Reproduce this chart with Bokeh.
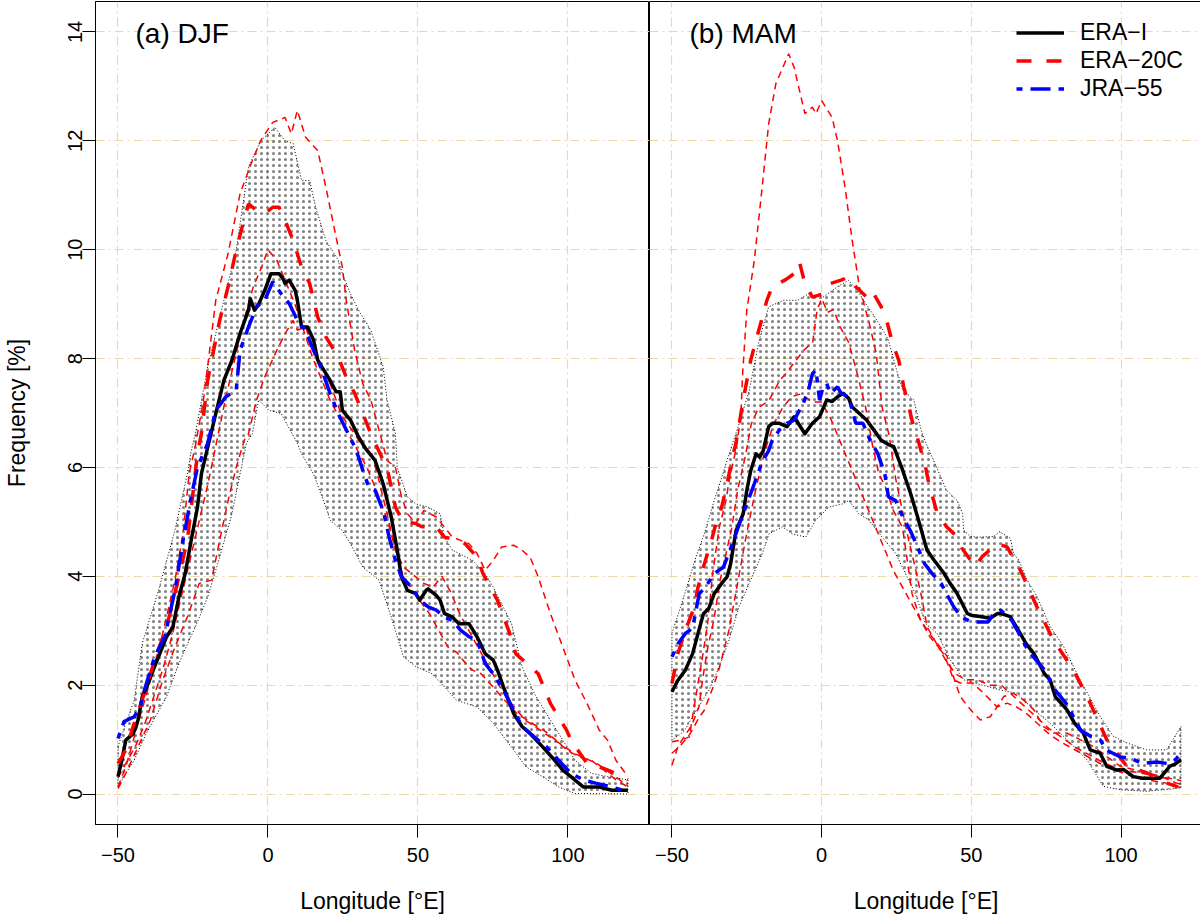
from bokeh.plotting import figure
from bokeh.models import Range1d, FixedTicker, Label, Legend, LegendItem
from bokeh.layouts import row
from bokeh.embed import file_html
from bokeh.resources import INLINE

FONT = "Liberation Sans"

# ---------------- tick labels ----------------
x_ticks = [-50, 0, 50, 100]
x_tick_labels = ["\u221250", "0", "50", "100"]
y_ticks = [0, 2, 4, 6, 8, 10, 12, 14]
y_tick_labels = ["0", "2", "4", "6", "8", "10", "12", "14"]
panel_titles = ["(a) DJF", "(b) MAM"]
series_names = ["ERA\u2212I", "ERA\u221220C", "JRA\u221255"]

# ---------------- (a) DJF ----------------
djf_erai_lon = [-50, -48.7, -47.4, -44.9, -43.3, -41.9, -40.6, -37.8, -33.8, -31.7, -29.7, -27.6, -25.6, -23.5, -22.2,
                -20.1, -17.4, -14.7, -12.0, -9.3, -6.5, -5.9, -4.5, -3.1, -1.1, 1.0, 3.7, 5.0, 5.7, 7.1, 9.1, 9.8,
                11.2, 13.2, 15.2, 16.6, 20.7, 22.7, 24.1, 24.8, 27.5, 30.2, 32.5, 35.7, 38.4, 41.1, 43.1, 44.5, 46.5,
                49.3, 50.6, 52.7, 53.4, 56.1, 57.4, 58.8, 61.5, 63.6, 67.0, 69.7, 72.4, 75.1, 76.5, 78.5, 81.9, 84.7,
                87.4, 91.5, 95.6, 98.3, 101.0, 105.1, 110.5, 114.6, 120.0]
djf_erai_val = [0.32, 0.62, 0.99, 1.11, 1.36, 1.79, 1.94, 2.34, 2.89, 3.07, 3.62, 4.05, 4.66, 5.27, 5.88, 6.37, 6.99,
                7.6, 7.97, 8.46, 8.89, 9.1, 8.89, 9.0, 9.25, 9.56, 9.56, 9.47, 9.38, 9.44, 9.25, 9.07, 8.58, 8.58,
                8.34, 7.97, 7.6, 7.39, 7.39, 7.05, 6.87, 6.56, 6.35, 6.13, 5.70, 5.09, 4.48, 3.99, 3.74, 3.68, 3.56,
                3.74, 3.77, 3.65, 3.56, 3.32, 3.25, 3.13, 3.13, 2.89, 2.58, 2.46, 2.28, 1.97, 1.48, 1.24, 1.11, 0.87,
                0.62, 0.44, 0.32, 0.13, 0.13, 0.07, 0.07]

djf_era20c_lon = [-50, -47.4, -44.6, -41.2, -37.8, -33.8, -29.7, -26.9, -24.9, -23.5, -22.2, -20.1, -16.1, -13.3,
                  -10.6, -8.6, -6.5, -3.8, -1.1, 1.6, 3.7, 5.7, 8.4, 11.2, 13.9, 16.6, 19.3, 23.4, 26.1, 28.9, 31.6,
                  34.3, 38.4, 39.7, 42.5, 45.0, 49.3, 51.3, 56.1, 58.8, 63.6, 65.7, 69.7, 71.7, 76.5, 80.6, 82.6,
                  87.4, 90.1, 94.2, 99.6, 101.0, 106.4, 111.9, 116.0, 120.0]
djf_era20c_val = [0.56, 0.81, 1.30, 1.85, 2.46, 3.07, 3.99, 4.66, 5.58, 6.25, 6.62, 7.6, 8.70, 9.32, 9.99, 10.42,
                  10.84, 10.72, 10.66, 10.78, 10.78, 10.54, 10.17, 9.68, 9.38, 8.76, 8.40, 8.03, 7.66, 7.36, 6.99,
                  6.62, 6.13, 6.0, 5.27, 5.0, 4.97, 4.91, 4.91, 4.72, 4.66, 4.60, 4.35, 4.05, 3.56, 2.95, 2.58, 2.34,
                  2.21, 1.66, 1.17, 0.99, 0.56, 0.47, 0.38, 0.26]

djf_jra55_lon = [-50, -48.0, -44.6, -42.6, -41.2, -37.8, -34.4, -31.0, -28.3, -25.6, -23.5, -20.1, -17.4, -14.0,
                 -10.6, -9.3, -6.5, -3.8, -1.1, 1.6, 4.4, 7.1, 9.8, 12.5, 15.2, 18.0, 20.7, 23.4, 26.1, 28.9, 30.2,
                 31.6, 33.6, 35.7, 38.4, 40.4, 42.5, 44.5, 47.9, 50.6, 53.4, 56.1, 58.8, 61.5, 64.2, 67.0, 69.7,
                 72.4, 75.1, 78.5, 81.9, 84.7, 88.8, 92.8, 96.9, 101.0, 105.1, 109.2, 114.6, 120.0]
djf_jra55_val = [1.02, 1.33, 1.42, 1.60, 1.91, 2.52, 2.89, 3.74, 4.66, 5.46, 6.0, 6.44, 7.05, 7.3, 7.42, 8.15, 8.58,
                 8.95, 9.07, 9.41, 9.19, 9.01, 8.70, 8.52, 8.15, 7.79, 7.36, 6.99, 6.69, 6.38, 6.19, 5.95, 5.64,
                 5.58, 5.21, 4.72, 4.29, 3.99, 3.80, 3.56, 3.44, 3.38, 3.25, 3.19, 3.01, 2.89, 2.83, 2.40, 2.21,
                 1.91, 1.54, 1.24, 1.05, 0.87, 0.62, 0.38, 0.26, 0.20, 0.13, 0.04]

djf_thin1_lon = [-50, -47.4, -43.3, -39.2, -35.1, -31.0, -28.3, -26.3, -24.2, -21.5, -17.4, -13.3, -9.3, -5.2, -2.4,
                 1.6, 5.7, 7.8, 9.8, 12.5, 16.6, 19.3, 22.0, 24.8, 26.1, 28.9, 31.6, 34.3, 37.0, 39.7, 42.5, 44.5,
                 46.5, 49.3, 52.0, 56.1, 61.5, 67.0, 69.7, 72.4, 75.1, 77.9, 81.9, 84.7, 87.4, 90.1, 94.2, 98.3,
                 102.4, 106.4, 110.5, 113.2, 116.0, 120.0]
djf_thin1_val = [0.13, 0.5, 1.3, 2.09, 2.95, 3.93, 4.79, 5.88, 6.4, 7.24, 9.07, 9.93, 11.03, 11.64, 12.01, 12.34,
                 12.43, 12.13, 12.56, 12.07, 11.82, 11.15, 10.42, 9.68, 9.07, 8.15, 7.54, 7.24, 6.69, 6.13, 6.0,
                 5.46, 5.15, 4.97, 5.21, 5.09, 4.72, 4.60, 4.42, 4.11, 4.29, 4.54, 4.57, 4.48, 4.35, 3.99, 3.31,
                 2.70, 2.09, 1.66, 1.17, 0.99, 0.62, 0.32]

djf_thin2_lon = [-50, -47.4, -43.3, -39.2, -35.1, -31.0, -26.9, -22.9, -18.8, -16.1, -13.3, -10.6, -7.9, -6.5, -3.8,
                 -1.1, 2.5, 5.7, 8.4, 9.8, 12.5, 15.0, 18.0, 20.7, 24.8, 28.9, 31.6, 34.3, 37.0, 39.7, 42.5, 45.2,
                 47.9, 52.0, 55.0, 58.0, 61.0, 64.0, 67.0, 70.0, 74.0, 78.0, 82.0, 86.0, 90.0, 94.0, 98.0, 102.0,
                 106.0, 110.0, 115.0, 120.0]
djf_thin2_val = [0.10, 0.38, 0.87, 1.36, 2.09, 2.70, 3.25, 3.87, 3.93, 4.66, 5.39, 6.0, 6.5, 6.62, 7.24, 7.66, 8.1,
                 8.46, 8.70, 8.52, 8.58, 8.2, 7.85, 7.54, 6.93, 6.62, 6.38, 6.31, 5.76, 5.15, 4.48, 4.17, 4.05,
                 3.87, 3.8, 4.0, 3.7, 3.3, 3.0, 2.7, 2.3, 1.9, 1.6, 1.35, 1.2, 1.05, 0.9, 0.75, 0.65, 0.55, 0.35,
                 0.15]

djf_thin3_lon = [-50, -47, -44, -41, -38, -35, -32, -29, -26, -23, -20, -17, -14, -11, -8, -5, -2, 0, 3, 6, 9, 12,
                 15, 18, 21, 24, 27, 30, 33, 36, 40, 45, 50, 54, 57, 60, 63, 65, 68, 71, 75, 79, 83, 88, 92, 96,
                 99.6, 103.7, 107.8, 112, 116, 120]
djf_thin3_val = [0.3, 0.6, 0.9, 1.3, 1.8, 2.3, 2.9, 3.6, 4.3, 5.0, 5.7, 6.5, 7.3, 8.0, 8.7, 9.3, 9.7, 10.0, 9.8,
                 9.4, 9.0, 8.5, 8.0, 7.6, 7.2, 6.9, 6.6, 6.3, 6.0, 5.6, 5.0, 4.0, 3.6, 3.3, 3.0, 2.7, 2.6, 2.46,
                 2.28, 2.21, 1.97, 1.72, 1.48, 1.3, 1.17, 0.99, 0.81, 0.68, 0.62, 0.44, 0.26, 0.13]

djf_band_up_lon = [-50, -47.4, -44.6, -41.9, -36.5, -31.0, -26.9, -25.6, -24.2, -20.1, -14.7, -10.6, -6.5, -2.4,
                   2.3, 5.7, 8.4, 11.2, 13.9, 15.9, 19.3, 23.4, 24.8, 27.5, 30.2, 34.3, 38.4, 39.7, 42.5, 43.1,
                   46.5, 49.3, 53.4, 57.4, 58.8, 61.5, 68.3, 72.4, 75.1, 81.2, 84.7, 88.8, 92.8, 98.3, 102.4,
                   107.8, 113.2, 120.0]
djf_band_up_val = [0.87, 1.30, 1.72, 2.77, 3.74, 4.85, 5.88, 6.3, 6.62, 7.85, 9.07, 9.99, 11.52, 12.0, 12.25,
                   12.0, 11.95, 11.27, 11.27, 10.78, 10.17, 9.81, 9.56, 9.19, 8.89, 8.52, 7.85, 7.24, 6.62, 6.0,
                   5.46, 5.33, 5.27, 5.15, 4.72, 4.48, 4.29, 4.05, 3.80, 3.13, 2.34, 1.85, 1.48, 0.99, 0.62, 0.38,
                   0.32, 0.26]
djf_band_lo_lon = [-50, -47.4, -44.6, -40.6, -33.8, -31.0, -28.3, -24.2, -20.1, -16.1, -12.0, -9.3, -7.2, -5.2,
                   -3.1, 0.3, 4.4, 9.8, 11.2, 15.2, 19.3, 20.7, 24.8, 27.5, 31.6, 37.0, 41.1, 45.2, 49.3, 54.7,
                   58.8, 62.9, 69.7, 75.1, 81.9, 86.0, 91.5, 96.9, 102.4, 120.0]
djf_band_lo_val = [0.13, 0.38, 0.62, 1.11, 1.79, 2.21, 2.58, 3.07, 3.62, 4.35, 5.15, 5.88, 6.44, 6.62, 7.24, 7.05,
                   6.99, 6.44, 6.25, 5.88, 5.27, 5.03, 4.84, 4.60, 4.17, 3.93, 3.25, 2.52, 2.34, 2.21, 1.97, 1.72,
                   1.60, 1.30, 0.81, 0.50, 0.32, 0.13, 0.01, 0.0]

# ---------------- (b) MAM ----------------
mam_erai_lon = [-50, -48.0, -45.5, -43.1, -41.3, -39.5, -37.7, -35.9, -33.4, -31.6, -30.4, -28.6, -26.2, -25.0,
                -23.7, -21.9, -20.7, -19.5, -17.7, -16.5, -14.1, -11.6, -9.2, -5.6, -3.1, -0.7, 1.7, 3.5, 5.3, 7.1,
                9.0, 10.2, 12.6, 15.0, 17.4, 19.9, 22.3, 24.1, 27.1, 29.7, 32.0, 35.2, 37.5, 40.8, 42.9, 45.2,
                48.6, 50.2, 53.0, 56.3, 58.6, 59.7, 63.0, 66.3, 68.3, 70.8, 74.4, 76.3, 78.0, 81.9, 84.5, 87.4,
                89.7, 93.0, 95.2, 98.6, 100.8, 104.1, 107.1, 113.0, 116.3, 118.0, 120.0]
mam_erai_val = [1.88, 2.09, 2.28, 2.58, 2.95, 3.31, 3.41, 3.68, 3.87, 3.99, 4.23, 4.84, 5.15, 5.58, 5.94, 6.25,
                6.19, 6.31, 6.75, 6.81, 6.81, 6.75, 6.93, 6.62, 6.81, 6.93, 7.24, 7.21, 7.30, 7.36, 7.27, 7.11,
                6.99, 6.87, 6.69, 6.50, 6.42, 6.38, 5.94, 5.52, 5.10, 4.48, 4.30, 4.06, 3.87, 3.69, 3.32, 3.28,
                3.26, 3.23, 3.31, 3.32, 3.26, 2.95, 2.76, 2.59, 2.21, 2.10, 1.79, 1.55, 1.30, 1.12, 0.81, 0.75,
                0.51, 0.44, 0.45, 0.32, 0.29, 0.29, 0.51, 0.55, 0.63]

mam_era20c_lon = [-50, -48.0, -45.5, -42.5, -41.3, -39.5, -37.1, -35.3, -33.4, -31.6, -29.8, -28.6, -26.2, -23.7,
                  -21.3, -20.1, -18.3, -16.5, -12.0, -9.2, -7.4, -5.6, -3.1, 0.5, 2.9, 6.5, 9.0, 11.4, 15.0, 16.8,
                  19.9, 21.7, 23.6, 25.8, 27.4, 28.6, 30.2, 31.9, 34.7, 35.8, 38.6, 41.7, 45.2, 46.9, 51.3, 53.6,
                  58.6, 61.9, 66.3, 71.9, 77.4, 84.1, 89.7, 95.2, 101.9, 108.6, 115.2, 119.0]
mam_era20c_val = [2.03, 2.58, 3.01, 3.44, 3.80, 4.17, 4.60, 4.97, 5.27, 5.70, 6.19, 6.45, 7.24, 7.97, 8.46, 8.70,
                  9.07, 9.32, 9.45, 9.56, 9.77, 9.38, 9.13, 9.19, 9.38, 9.44, 9.50, 9.32, 9.13, 9.25, 8.95, 8.70,
                  8.30, 7.96, 7.48, 7.24, 6.86, 6.56, 6.01, 5.70, 5.16, 4.91, 4.73, 4.51, 4.18, 4.36, 4.60, 4.54,
                  4.12, 3.44, 2.83, 2.28, 1.67, 1.00, 0.51, 0.39, 0.20, 0.13]

mam_jra55_lon = [-50, -48.0, -45.5, -43.1, -40.9, -38.8, -35.9, -32.8, -29.8, -27.4, -25.0, -22.5, -20.1, -17.7,
                 -16.5, -14.1, -11.6, -9.2, -6.2, -4.4, -3.1, -1.9, -0.7, 0.5, 1.7, 2.9, 5.3, 6.5, 9.0, 10.2, 11.4,
                 13.8, 16.2, 18.7, 19.9, 21.1, 22.3, 24.7, 27.1, 29.6, 32.0, 34.4, 36.9, 39.9, 41.7, 44.1, 46.6,
                 50.2, 53.8, 55.6, 57.4, 59.8, 61.1, 63.5, 65.9, 68.3, 70.7, 74.4, 78.0, 81.7, 84.1, 86.5, 90.1,
                 93.1, 95.0, 99.8, 103.5, 107.1, 111.9, 115.6, 118.0, 120.0]
mam_jra55_val = [2.52, 2.76, 2.95, 3.05, 3.68, 3.80, 4.05, 4.17, 4.60, 4.97, 5.33, 5.70, 6.07, 6.31, 6.50, 6.69,
                 6.81, 6.87, 7.17, 7.42, 7.72, 7.79, 7.24, 7.48, 7.54, 7.36, 7.48, 7.36, 7.30, 7.05, 6.81, 6.81,
                 6.50, 6.26, 6.07, 5.88, 5.46, 5.39, 5.09, 4.84, 4.54, 4.23, 4.05, 3.87, 3.68, 3.44, 3.25, 3.16,
                 3.16, 3.16, 3.31, 3.38, 3.31, 3.19, 2.95, 2.70, 2.52, 2.28, 1.91, 1.66, 1.42, 1.17, 1.05, 0.99,
                 0.81, 0.68, 0.65, 0.56, 0.59, 0.56, 0.62, 0.75]

mam_thin1_lon = [-50, -47.0, -44.2, -42.6, -39.8, -38.1, -36.4, -34.2, -32.0, -30.9, -28.7, -27.0, -26.4, -25.0,
                 -22.5, -20.1, -17.7, -15.3, -11.0, -9.2, -5.6, -3.1, -1.9, 0.0, 3.5, 5.3, 7.8, 10.2, 12.6, 16.2,
                 18.2, 20.2, 22.5, 24.7, 27.0, 29.1, 31.5, 33.6, 35.2, 37.0, 39.0, 41.0, 44.1, 46.3, 50.2, 53.0,
                 56.3, 58.6, 60.8, 64.1, 67.4, 70.8, 74.1, 77.4, 81.9, 86.3, 90.8, 95.2, 99.7, 104.1, 108.6, 113.0,
                 118.6, 120.0]
mam_thin1_val = [0.96, 0.99, 1.05, 1.6, 2.52, 3.13, 4.05, 4.9, 5.38, 5.76, 6.31, 6.92, 7.72, 8.89, 9.8, 11.03,
                 12.31, 13.05, 13.6, 13.35, 12.5, 12.62, 12.5, 12.74, 12.43, 12.0, 11.15, 10.17, 9.32, 8.58, 8.1,
                 7.1, 6.6, 5.8, 5.2, 4.66, 4.1, 3.56, 3.07, 2.9, 2.7, 2.55, 2.1, 2.04, 2.04, 1.91, 1.73, 1.6, 1.79,
                 1.85, 1.73, 1.55, 1.24, 1.12, 1.12, 1.0, 0.87, 0.69, 0.51, 0.45, 0.39, 0.33, 0.2, 0.18]

mam_thin2_lon = [-50, -48.0, -46.0, -43.5, -41.0, -39.5, -38.0, -36.0, -34.0, -32.0, -30.0, -28.0, -25.5, -23.5,
                 -21.0, -17.6, -14.0, -12.0, -8.7, -6.0, -3.0, -1.5, 0.0, 2.0, 4.0, 6.0, 9.0, 12.0, 14.7, 17.0,
                 19.1, 21.3, 24.0, 27.0, 30.2, 33.0, 36.0, 38.6, 41.9, 44.7, 46.3, 49.7, 53.0, 56.3, 58.6, 61.9,
                 65.0, 68.0, 72.0, 76.0, 80.0, 85.0, 90.0, 95.0, 100.0, 105.0, 110.0, 115.0, 120.0]
mam_thin2_val = [0.53, 0.87, 1.05, 1.25, 1.6, 2.2, 2.7, 3.2, 3.9, 4.4, 4.9, 5.6, 6.2, 6.8, 7.1, 7.23, 7.6, 7.72,
                 7.96, 8.15, 8.3, 8.9, 9.1, 8.85, 8.9, 8.6, 8.3, 7.7, 7.1, 6.4, 5.88, 5.64, 5.2, 4.9, 3.68, 3.2,
                 2.95, 2.77, 2.53, 2.04, 1.79, 1.55, 1.36, 1.42, 1.6, 1.67, 1.6, 1.5, 1.3, 1.1, 0.95, 0.8, 0.65,
                 0.5, 0.4, 0.3, 0.25, 0.2, 0.12]

mam_thin3_lon = [-50, -47, -44, -41, -39.2, -36, -34.2, -31, -28, -25, -22, -19, -16, -13, -10, -7, -3, 0, 3, 6,
                 9, 12, 15, 18, 21, 24, 27, 30, 33, 36, 39, 42, 45, 48, 52, 56, 60, 64, 68, 72, 76, 80, 85, 90, 95,
                 100, 105, 110, 115, 120]
mam_thin3_val = [0.75, 0.9, 1.1, 1.4, 1.54, 2.0, 2.31, 3.0, 3.9, 4.8, 5.6, 6.3, 6.8, 7.1, 7.3, 7.35, 7.2, 7.2, 6.9,
                 6.5, 6.1, 5.7, 5.3, 4.9, 4.5, 4.1, 3.8, 3.5, 3.2, 2.9, 2.7, 2.4, 2.2, 2.1, 2.1, 2.0, 2.0, 1.8,
                 1.6, 1.4, 1.2, 1.05, 0.85, 0.7, 0.55, 0.45, 0.4, 0.35, 0.3, 0.25]

mam_band_up_lon = [-50, -46.4, -42.0, -39.2, -35.9, -33.7, -30.9, -27.6, -24.2, -22.0, -20.9, -17.7, -12.8, -8.0,
                   -4.4, 0.5, 5.3, 9.0, 12.6, 16.2, 19.9, 22.3, 24.7, 27.1, 30.8, 33.2, 34.4, 37.4, 41.7, 45.3, 47.1,
                   47.4, 49.7, 52.6, 57.4, 59.4, 63.0, 64.1, 65.8, 68.6, 71.9, 76.3, 80.8, 86.3, 93.0, 97.4, 101.9,
                   108.6, 115.2, 120.0]
mam_band_up_val = [2.95, 3.56, 4.35, 4.78, 5.39, 5.76, 6.25, 6.80, 7.41, 8.02, 8.33, 8.95, 9.07, 9.07, 9.19, 9.13,
                   9.32, 9.44, 9.19, 8.89, 8.58, 8.34, 7.85, 7.42, 7.24, 6.69, 6.5, 6.13, 5.58, 5.39, 5.15, 4.85,
                   4.73, 4.72, 4.73, 4.82, 4.7, 4.42, 4.3, 3.93, 3.63, 3.08, 2.71, 2.1, 1.43, 1.06, 0.94, 0.81,
                   0.81, 1.24]
mam_band_lo_lon = [-50, -46.0, -43.1, -37.6, -34.2, -30.9, -27.6, -24.2, -19.8, -17.6, -13.1, -9.8, -5.3, -2.0, 2.4,
                   6.9, 9.1, 12.4, 15.8, 20.2, 24.7, 28.0, 31.3, 34.7, 38.6, 43.0, 47.4, 50.8, 55.2, 59.7, 65.2,
                   70.8, 76.3, 81.9, 88.6, 94.1, 99.7, 108.6, 120.0]
mam_band_lo_val = [0.99, 1.15, 1.42, 1.91, 2.34, 2.83, 3.44, 3.87, 4.42, 4.78, 4.91, 4.78, 4.72, 5.03, 5.27, 5.33,
                   5.39, 5.15, 5.03, 4.72, 4.42, 4.05, 3.68, 3.13, 2.95, 2.46, 2.10, 2.04, 1.98, 1.91, 1.85, 1.55,
                   1.30, 1.0, 0.63, 0.14, 0.08, 0.05, 0.11]

# ---------------- styling ----------------
GRID = "#EBD9AA"
FRAME_H = 823
x_range_ab = (-57.5, 127.2)
y_range_ab = (-0.56, 14.56)
yr = Range1d(*y_range_ab)


def make_panel(first, title, band_up, band_lo, thins, erai, era20c, jra55):
    fw = 554 if first else 553
    p = figure(frame_width=fw, frame_height=FRAME_H,
               x_range=Range1d(*x_range_ab), y_range=yr,
               output_backend="svg", toolbar_location=None,
               y_axis_location="left" if first else None,
               min_border_left=92 if first else 0, min_border_right=0 if first else 1,
               min_border_top=1, min_border_bottom=92,
               background_fill_color="white", border_fill_color="white")
    p.outline_line_color = "black"
    p.outline_line_width = 1
    for g in (p.xgrid, p.ygrid):
        g.grid_line_color = GRID
        g.grid_line_dash = "9 4 2 4"
        g.grid_line_width = 1.2
    p.xgrid.ticker = FixedTicker(ticks=x_ticks)
    p.ygrid.ticker = FixedTicker(ticks=y_ticks)
    xa = p.xaxis[0]
    xa.ticker = FixedTicker(ticks=x_ticks)
    xa.major_label_overrides = dict(zip(x_ticks, x_tick_labels))
    xa.axis_label = "Longitude [\u00b0E]"
    axes = [xa]
    if first:
        ya = p.yaxis[0]
        ya.ticker = FixedTicker(ticks=y_ticks)
        ya.major_label_overrides = dict(zip(y_ticks, y_tick_labels))
        ya.axis_label = "Frequency [%]"
        ya.major_label_orientation = "vertical"
        axes.append(ya)
    for a in axes:
        a.axis_line_color = "black"
        a.major_tick_line_color = "black"
        a.major_tick_out = 13
        a.major_tick_in = 0
        a.minor_tick_line_color = None
        a.major_label_text_font = FONT
        a.major_label_text_font_size = "20px"
        a.major_label_text_color = "black"
        a.axis_label_text_font = FONT
        a.axis_label_text_font_size = "23px"
        a.axis_label_text_font_style = "normal"
        a.axis_label_text_color = "black"
    xa.major_label_standoff = 10
    xa.axis_label_standoff = 23
    if first:
        ya.major_label_standoff = 0
        ya.axis_label_standoff = 36

    # stippled band
    px = list(band_up[0]) + list(band_lo[0])[::-1]
    py = list(band_up[1]) + list(band_lo[1])[::-1]
    p.patch(px, py, fill_color=None, fill_alpha=0,
            hatch_pattern="dot", hatch_color="black", hatch_scale=6, hatch_weight=1.0, hatch_alpha=0.5,
            line_color="black", line_dash="1 2", line_width=1)

    for lon, val in thins:
        p.line(lon, val, line_color="#FF0000", line_width=1.5, line_dash="7 5")

    r1 = p.line(erai[0], erai[1], line_color="black", line_width=3.5, line_join="round")
    r2 = p.line(era20c[0], era20c[1], line_color="#FF0000", line_width=3.5, line_dash="15 15")
    r3 = p.line(jra55[0], jra55[1], line_color="#0000FF", line_width=3.5, line_dash="6 8 20 8")

    p.add_layout(Label(x=40, y=FRAME_H - 32, x_units="screen", y_units="screen", text=title,
                       text_font=FONT, text_font_size="28px", text_baseline="middle",
                       text_color="black"))
    return p, (r1, r2, r3)


p1, _ = make_panel(True, panel_titles[0],
                   (djf_band_up_lon, djf_band_up_val), (djf_band_lo_lon, djf_band_lo_val),
                   [(djf_thin1_lon, djf_thin1_val), (djf_thin2_lon, djf_thin2_val), (djf_thin3_lon, djf_thin3_val)],
                   (djf_erai_lon, djf_erai_val), (djf_era20c_lon, djf_era20c_val), (djf_jra55_lon, djf_jra55_val))
p2, rs = make_panel(False, panel_titles[1],
                    (mam_band_up_lon, mam_band_up_val), (mam_band_lo_lon, mam_band_lo_val),
                    [(mam_thin1_lon, mam_thin1_val), (mam_thin2_lon, mam_thin2_val), (mam_thin3_lon, mam_thin3_val)],
                    (mam_erai_lon, mam_erai_val), (mam_era20c_lon, mam_era20c_val), (mam_jra55_lon, mam_jra55_val))

legend = Legend(items=[LegendItem(label=n, renderers=[r]) for n, r in zip(series_names, rs)],
                location=(367, 722), orientation="vertical",
                glyph_width=48, glyph_height=27, label_height=27, label_standoff=16, spacing=1,
                padding=0, margin=0, background_fill_alpha=0, border_line_alpha=0,
                label_text_font=FONT, label_text_font_size="23px", label_text_baseline="middle",
                label_text_color="black")
p2.add_layout(legend)

layout = row(p1, p2)
open("out.html", "w").write(file_html(layout, INLINE))
